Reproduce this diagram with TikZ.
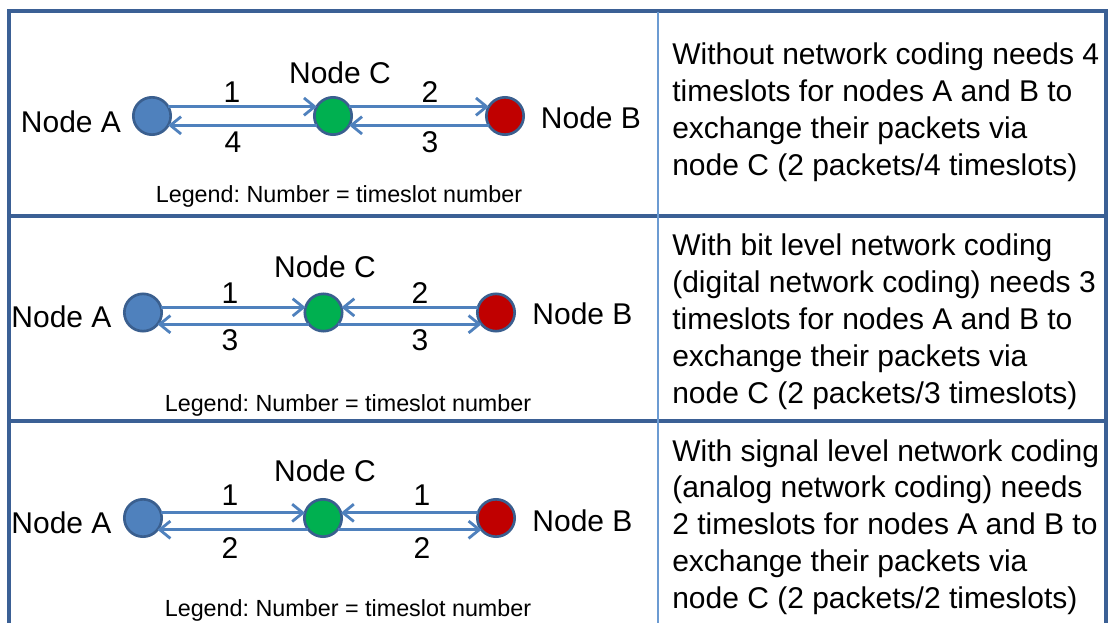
\documentclass[tikz,border=0pt]{standalone}
\usepackage{fontspec}
\setmainfont{Liberation Sans}
\usetikzlibrary{arrows.meta}
\definecolor{framedark}{HTML}{3B6095}
\definecolor{framelight}{HTML}{6C9BD2}
\definecolor{linkblue}{HTML}{4F81BD}
\definecolor{rimblue}{HTML}{3A5F8F}
\definecolor{fillA}{HTML}{4F81BD}
\definecolor{fillC}{HTML}{00B050}
\definecolor{fillB}{HTML}{C00000}
\frenchspacing

\begin{document}
\begin{tikzpicture}[x=0.75pt,y=-0.75pt,
  station/.style={circle,draw=rimblue,line width=2pt,minimum size=28pt,
                  inner sep=0pt,outer sep=0pt},
  namelabel/.style={font=\fontsize{22.5}{27}\selectfont,inner sep=0pt,anchor=base},
  slot/.style={font=\fontsize{22.5}{27}\selectfont,inner sep=0pt,anchor=base},
  legendtext/.style={font=\fontsize{17.5}{21}\selectfont,inner sep=0pt,anchor=base},
  desc/.style={font=\fontsize{22.5}{27}\selectfont,inner sep=0pt,anchor=base west},
  link/.style={draw=linkblue,line width=2.1pt,
               -{Straight Barb[length=8pt,width=13pt]}},
  rulebar/.style={draw=framedark,line width=3pt},
  divider/.style={draw=framelight,line width=1.9pt}]

\useasboundingbox (0,0) rectangle (1110,623);
\fill[white] (0,0) rectangle (1110,623);

% table frame
\draw[rulebar] (9,623) -- (9,11) -- (1106,11) -- (1106,623);
\draw[rulebar] (9,216) -- (1106,216);
\draw[rulebar] (9,421) -- (1106,421);
\draw[divider] (658,12.5) -- (658,623);

% ---- row 1: without network coding ----
\node[station,fill=fillA] (a1) at (152,116) {};
\node[station,fill=fillC] (c1) at (333,116) {};
\node[station,fill=fillB] (b1) at (505,116) {};
\draw[link] (a1.30) -- (c1.150);
\draw[link] (c1.30) -- (b1.150);
\draw[link] (b1.210) -- (c1.-30);
\draw[link] (c1.210) -- (a1.-30);
\node[namelabel] (na1) at (71,132.5) {Node A};
\node[namelabel] (nc1) at (340,84) {Node C};
\node[namelabel] (nb1) at (591,129) {Node B};
\node[slot] (s11) at (232,103) {1};
\node[slot] (s12) at (430,103) {2};
\node[slot] (s13) at (430,153) {3};
\node[slot] (s14) at (233,153) {4};
\node[legendtext] (lg1) at (339,203) {Legend: Number = timeslot number};

% ---- row 2: digital network coding ----
\node[station,fill=fillA] (a2) at (143,312.5) {};
\node[station,fill=fillC] (c2) at (323.5,312.5) {};
\node[station,fill=fillB] (b2) at (496,312.5) {};
\draw[link] (a2.16) -- (c2.164);
\draw[link] (b2.164) -- (c2.16);
\draw[link] (c2.219) -- (a2.-39);
\draw[link] (c2.-39) -- (b2.219);
\node[namelabel] (na2) at (61.5,328) {Node A};
\node[namelabel] (nc2) at (325,278) {Node C};
\node[namelabel] (nb2) at (582.5,325) {Node B};
\node[slot] (s21) at (230,303.5) {1};
\node[slot] (s22) at (420,303.5) {2};
\node[slot] (s23) at (230,351) {3};
\node[slot] (s24) at (420,351) {3};
\node[legendtext] (lg2) at (348,411.5) {Legend: Number = timeslot number};

% ---- row 3: analog network coding ----
\node[station,fill=fillA] (a3) at (143,518) {};
\node[station,fill=fillC] (c3) at (323,518) {};
\node[station,fill=fillB] (b3) at (496,518) {};
\draw[link] (a3.16) -- (c3.164);
\draw[link] (b3.164) -- (c3.16);
\draw[link] (c3.219) -- (a3.-39);
\draw[link] (c3.-39) -- (b3.219);
\node[namelabel] (na3) at (61.5,533) {Node A};
\node[namelabel] (nc3) at (325,481) {Node C};
\node[namelabel] (nb3) at (582.5,531) {Node B};
\node[slot] (s31) at (230,505.5) {1};
\node[slot] (s32) at (422,505.5) {1};
\node[slot] (s33) at (230,558) {2};
\node[slot] (s34) at (422,558) {2};
\node[legendtext] (lg3) at (348,616) {Legend: Number = timeslot number};

% ---- right column descriptions ----
\foreach \t [count=\i] in {{Without network coding needs 4},
    {timeslots for nodes A and B to},
    {exchange their packets via},
    {node C (2 packets/4 timeslots)}}
  \node[desc] (d1-\i) at (672,{65+(\i-1)*37}) {\t};
\foreach \t [count=\i] in {{With bit level network coding},
    {(digital network coding) needs 3},
    {timeslots for nodes A and B to},
    {exchange their packets via},
    {node C (2 packets/3 timeslots)}}
  \node[desc] (d2-\i) at (672,{256+(\i-1)*36.8}) {\t};
\foreach \t [count=\i] in {{With signal level network coding},
    {(analog network coding) needs},
    {2 timeslots for nodes A and B to},
    {exchange their packets via},
    {node C (2 packets/2 timeslots)}}
  \node[desc] (d3-\i) at (672,{461+(\i-1)*36.8}) {\t};
\end{tikzpicture}
\end{document}
